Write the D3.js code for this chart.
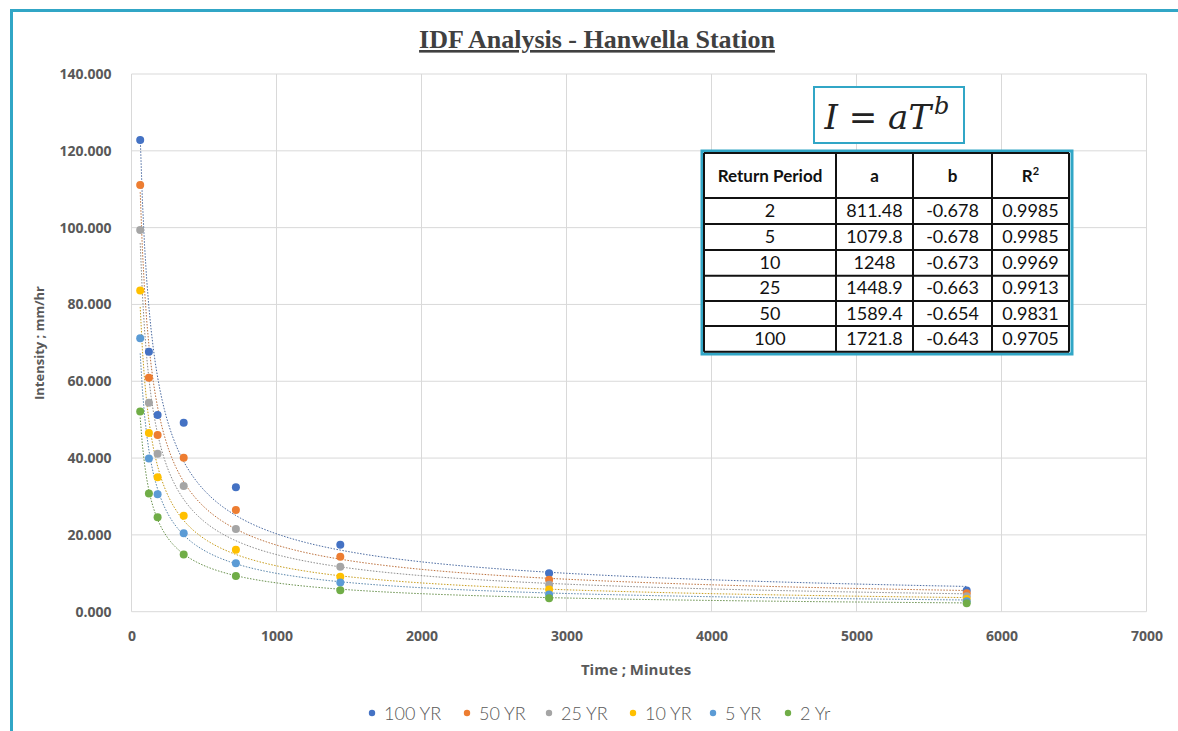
<!DOCTYPE html>
<html>
<head>
<meta charset="utf-8">
<script src="https://cdn.jsdelivr.net/npm/d3@7"></script>
<style>
  body { margin: 0; background: #fff; }
  svg { display: block; }
</style>
</head>
<body>
<div id="container"></div>
<script>
// durations (minutes)
const durations = [60, 120, 180, 360, 720, 1440, 2880, 5760];

const seriesNames = ["100 YR", "50 YR", "25 YR", "10 YR", "5 YR", "2 Yr"];
const seriesColors = ["#4472C4", "#ED7D31", "#A5A5A5", "#FFC000", "#5B9BD5", "#70AD47"];

// intensities, mm/hr
const yr100 = [122.8, 67.7, 51.2, 49.2, 32.4, 17.4, 10.0, 5.5];
const yr50 = [111.1, 60.9, 46.0, 40.1, 26.5, 14.3, 8.3, 4.8];
const yr25 = [99.4, 54.4, 41.1, 32.7, 21.5, 11.7, 7.0, 4.0];
const yr10 = [83.6, 46.5, 35.0, 25.0, 16.1, 9.1, 5.8, 3.3];
const yr5 = [71.2, 39.9, 30.6, 20.4, 12.6, 7.6, 4.5, 2.7];
const yr2 = [52.1, 30.8, 24.6, 14.9, 9.3, 5.6, 3.5, 2.2];
const seriesValues = [yr100, yr50, yr25, yr10, yr5, yr2];

// fitted power trendlines I = a T^b (from the table in the chart)
const returnPeriods = ["2", "5", "10", "25", "50", "100"];
const coefA = [811.48, 1079.8, 1248, 1448.9, 1589.4, 1721.8];
const coefB = [-0.678, -0.678, -0.673, -0.663, -0.654, -0.643];
const coefR2 = ["0.9985", "0.9985", "0.9969", "0.9913", "0.9831", "0.9705"];
const coefAText = ["811.48", "1079.8", "1248", "1448.9", "1589.4", "1721.8"];

const xTicks = [0, 1000, 2000, 3000, 4000, 5000, 6000, 7000];
const yTicks = [0, 20, 40, 60, 80, 100, 120, 140];

const width = 1178, height = 731;
const margin = { left: 131.5, right: 1146.5, top: 74, bottom: 611.7 };

const svg = d3.select("#container").append("svg")
    .attr("width", width)
    .attr("height", height);

// outer teal frame
svg.append("rect")
    .attr("x", 11.5).attr("y", 10.5)
    .attr("width", width + 10).attr("height", height + 10)
    .attr("fill", "none")
    .attr("stroke", "#31a6c6")
    .attr("stroke-width", 3);

const x = d3.scaleLinear().domain([0, 7000]).range([margin.left, margin.right]);
const y = d3.scaleLinear().domain([0, 140]).range([margin.bottom, margin.top]);

// gridlines
svg.append("g")
    .selectAll("line")
    .data(yTicks)
    .join("line")
    .attr("x1", margin.left).attr("x2", margin.right)
    .attr("y1", d => y(d)).attr("y2", d => y(d))
    .attr("stroke", "#d9d9d9").attr("stroke-width", 1);

svg.append("g")
    .selectAll("line")
    .data(xTicks)
    .join("line")
    .attr("x1", d => x(d)).attr("x2", d => x(d))
    .attr("y1", margin.top).attr("y2", margin.bottom)
    .attr("stroke", "#d9d9d9").attr("stroke-width", 1);

// axes (text only, Excel style)
const xAxis = svg.append("g")
    .attr("transform", `translate(0,${margin.bottom + 16})`)
    .call(d3.axisBottom(x).tickValues(xTicks).tickSize(0).tickFormat(d3.format("d")));
const yAxis = svg.append("g")
    .attr("transform", `translate(${margin.left - 17},0)`)
    .call(d3.axisLeft(y).tickValues(yTicks).tickSize(0).tickFormat(d3.format(".3f")));
[xAxis, yAxis].forEach(a => {
    a.select(".domain").remove();
    a.selectAll("text")
        .attr("fill", "#595959")
        .style("font-family", "'Open Sans', sans-serif")
        .style("font-size", "14px")
        .style("font-weight", "bold");
});

// trendlines
const curveT = d3.range(60, 5761, 15);
const line = d3.line().x(d => x(d[0])).y(d => y(d[1]));
seriesNames.forEach((name, i) => {
    const k = returnPeriods.length - 1 - i; // table is in reverse order
    const pts = curveT.map(t => [t, coefA[k] * Math.pow(t, coefB[k])]);
    svg.append("path")
        .datum(pts)
        .attr("d", line)
        .attr("fill", "none")
        .attr("stroke", d3.color(seriesColors[i]).darker(0.8))
        .attr("stroke-width", 1)
        .attr("stroke-dasharray", "1.5,1.5")
        .attr("opacity", 0.9);
});

// points
seriesNames.forEach((name, i) => {
    svg.append("g")
        .selectAll("circle")
        .data(durations.map((t, j) => [t, seriesValues[i][j]]))
        .join("circle")
        .attr("cx", d => x(d[0]))
        .attr("cy", d => y(d[1]))
        .attr("r", 4)
        .attr("fill", seriesColors[i]);
});

// title
svg.append("text")
    .attr("x", 597).attr("y", 48)
    .attr("text-anchor", "middle")
    .attr("fill", "#404040")
    .style("font-family", "'Liberation Serif', serif")
    .style("font-weight", "bold")
    .style("font-size", "26px")
    .style("text-decoration", "underline")
    .text("IDF Analysis - Hanwella Station");

// axis titles
svg.append("text")
    .attr("x", 636).attr("y", 675)
    .attr("text-anchor", "middle")
    .attr("fill", "#595959")
    .style("font-family", "'Open Sans', sans-serif")
    .style("font-weight", "bold")
    .style("font-size", "15px")
    .text("Time ; Minutes");

svg.append("text")
    .attr("transform", "translate(44,343) rotate(-90)")
    .attr("text-anchor", "middle")
    .attr("fill", "#595959")
    .style("font-family", "'Open Sans', sans-serif")
    .style("font-weight", "bold")
    .style("font-size", "13px")
    .text("Intensity ; mm/hr");

// legend
const legendX = [372, 467, 549, 633, 713, 788];
const legend = svg.append("g");
seriesNames.forEach((name, i) => {
    legend.append("circle")
        .attr("cx", legendX[i]).attr("cy", 713)
        .attr("r", 3.2)
        .attr("fill", seriesColors[i]);
    legend.append("text")
        .attr("x", legendX[i] + 12).attr("y", 719.5)
        .attr("fill", "#595959")
        .style("font-family", "'Lato', sans-serif")
        .style("font-weight", "300")
        .style("font-size", "18px")
        .text(name);
});

// formula box
svg.append("rect")
    .attr("x", 814).attr("y", 87)
    .attr("width", 150).attr("height", 56)
    .attr("fill", "#fff")
    .attr("stroke", "#31a6c6")
    .attr("stroke-width", 2);
const formula = svg.append("text")
    .attr("x", 887).attr("y", 129)
    .attr("text-anchor", "middle")
    .attr("fill", "#222")
    .style("font-family", "'DejaVu Serif', serif")
    .style("font-size", "34px");
formula.append("tspan").style("font-style", "italic").text("I");
formula.append("tspan").text(" = ");
formula.append("tspan").style("font-style", "italic").text("aT");
formula.append("tspan").style("font-style", "italic").style("font-size", "24px").attr("dx", 3).attr("dy", -15).text("b");

// coefficient table
const colX = [704, 836, 913, 992, 1069];
const rowY = [153, 198, 224, 250, 275.7, 301, 326, 351.7];
const table = svg.append("g");
table.append("rect")
    .attr("x", 702).attr("y", 151)
    .attr("width", 370).attr("height", 203)
    .attr("fill", "#fff")
    .attr("stroke", "#31a6c6")
    .attr("stroke-width", 3);
table.selectAll(".h").data(rowY).join("line")
    .attr("x1", colX[0]).attr("x2", colX[4])
    .attr("y1", d => d).attr("y2", d => d)
    .attr("stroke", "#111").attr("stroke-width", 2);
table.selectAll(".v").data(colX).join("line")
    .attr("x1", d => d).attr("x2", d => d)
    .attr("y1", rowY[0]).attr("y2", rowY[rowY.length - 1])
    .attr("stroke", "#111").attr("stroke-width", 2);

const cellFont = "'Lato', sans-serif";
const colMid = d3.range(4).map(i => (colX[i] + colX[i + 1]) / 2);
const headers = ["Return Period", "a", "b", "R"];
headers.forEach((h, i) => {
    const t = table.append("text")
        .attr("x", colMid[i]).attr("y", 182)
        .attr("text-anchor", "middle")
        .attr("fill", "#111")
        .style("font-family", cellFont)
        .style("font-weight", "bold")
        .style("font-size", "17px")
        .text(h);
    if (h === "R") t.append("tspan").attr("dy", -7).style("font-size", "11px").text("2");
});
returnPeriods.forEach((rp, r) => {
    const cells = [rp, coefAText[r], coefB[r].toFixed(3), coefR2[r]];
    cells.forEach((c, i) => {
        table.append("text")
            .attr("x", colMid[i])
            .attr("y", (rowY[r + 1] + rowY[r + 2]) / 2 + 6)
            .attr("text-anchor", "middle")
            .attr("fill", "#111")
            .style("font-family", cellFont)
            .style("font-size", "18px")
            .text(c);
    });
});
</script>
</body>
</html>
